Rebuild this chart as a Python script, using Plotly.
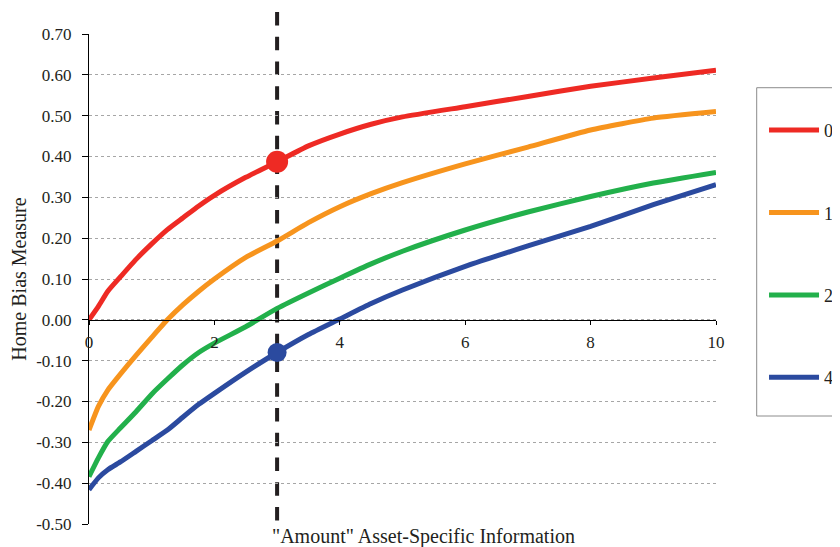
import plotly.graph_objects as go

# ---- data ----
x_vals = [0, 0.15, 0.3, 0.5, 0.75, 1, 1.25, 1.5, 1.75, 2, 2.5, 3, 3.5, 4, 4.5, 5, 6, 7, 8, 9, 10]
series_names = ["0", "1", "2", "4"]
y_s0 = [0.000, 0.033, 0.070, 0.105, 0.148, 0.186, 0.221, 0.250, 0.279, 0.305, 0.349, 0.387,
        0.426, 0.455, 0.479, 0.497, 0.522, 0.547, 0.572, 0.592, 0.611]
y_s1 = [-0.270, -0.212, -0.172, -0.133, -0.087, -0.043, 0.000, 0.037, 0.070, 0.100, 0.153, 0.193,
        0.238, 0.277, 0.309, 0.336, 0.382, 0.423, 0.465, 0.494, 0.510]
y_s2 = [-0.384, -0.338, -0.298, -0.265, -0.225, -0.182, -0.145, -0.110, -0.080, -0.057, -0.017, 0.028,
        0.066, 0.102, 0.137, 0.168, 0.220, 0.264, 0.302, 0.335, 0.361]
y_s4 = [-0.416, -0.387, -0.367, -0.348, -0.322, -0.296, -0.270, -0.238, -0.207, -0.180, -0.128, -0.080,
        -0.036, 0.002, 0.040, 0.073, 0.131, 0.181, 0.229, 0.282, 0.331]
highlight_x = 3
highlight_y_s0 = 0.387
highlight_y_s4 = -0.080

y_tickvals = [-0.5, -0.4, -0.3, -0.2, -0.1, 0.0, 0.1, 0.2, 0.3, 0.4, 0.5, 0.6, 0.7]
y_ticktext = ["-0.50", "-0.40", "-0.30", "-0.20", "-0.10", "0.00", "0.10", "0.20", "0.30",
              "0.40", "0.50", "0.60", "0.70"]
x_tickvals = [0, 2, 4, 6, 8, 10]

x_title = '"Amount" Asset-Specific Information'
y_title = "Home Bias Measure"

# ---- styling ----
colors = ["#EE2A24", "#F7941D", "#22B04B", "#2B4A9F"]
FONT = '"Liberation Serif", "Times New Roman", Times, serif'
TXT = "#231F20"

fig = go.Figure()
for name, ys, col in zip(series_names, [y_s0, y_s1, y_s2, y_s4], colors):
    fig.add_trace(go.Scatter(
        x=x_vals, y=ys, mode="lines", name=name, legendgroup="g" + name,
        line=dict(color=col, width=5, shape="spline", smoothing=0.5),
    ))

fig.add_trace(go.Scatter(x=[highlight_x], y=[highlight_y_s0], mode="markers", showlegend=False,
                         marker=dict(color=colors[0], size=22)))
fig.add_trace(go.Scatter(x=[highlight_x], y=[highlight_y_s4], mode="markers", showlegend=False,
                         marker=dict(color=colors[3], size=19)))

# vertical dashed line (drawn from the top down so the dash pattern starts at the top)
fig.add_shape(type="line", xref="x", yref="paper", x0=highlight_x, x1=highlight_x,
              y0=1.045, y1=0.0, line=dict(color=TXT, width=4, dash="13.5px,11.25px"), layer="below")

# legend frame
fig.add_shape(type="rect", xref="paper", yref="paper", x0=1.0649, x1=1.25, y0=0.2204, y1=0.8904,
              line=dict(color="#8c8c8c", width=1), fillcolor="rgba(0,0,0,0)")

fig.add_annotation(text=x_title, xref="paper", yref="paper", x=0.5327, y=-0.0245,
                   xanchor="center", yanchor="middle", showarrow=False,
                   font=dict(family=FONT, size=20, color=TXT))

fig.update_layout(
    width=832, height=539,
    margin=dict(l=81, r=124, t=26, b=23, autoexpand=False),
    paper_bgcolor="white", plot_bgcolor="white",
    font=dict(family=FONT, size=17, color=TXT),
    showlegend=True,
    legend=dict(x=1.0766, y=0.841, xanchor="left", yanchor="top",
                traceorder="grouped", tracegroupgap=56, itemwidth=50,
                bgcolor="rgba(0,0,0,0)", borderwidth=0,
                font=dict(family=FONT, size=18, color=TXT)),
    xaxis=dict(range=[0, 10], tickvals=x_tickvals, anchor="free", position=0.41667,
               showline=True, linecolor="black", linewidth=1,
               ticks="outside", ticklen=4, tickcolor="black", ticklabelstandoff=3,
               showgrid=False, zeroline=False,
               tickfont=dict(family=FONT, size=17, color=TXT)),
    yaxis=dict(range=[-0.5, 0.7], tickvals=y_tickvals, ticktext=y_ticktext,
               showline=True, linecolor="black", linewidth=1,
               ticks="outside", ticklen=6, tickcolor="black", ticklabelstandoff=7,
               showgrid=True, gridcolor="#a6a6a6", gridwidth=1, griddash="dot",
               zeroline=False,
               title=dict(text=y_title, font=dict(family=FONT, size=20, color=TXT), standoff=5),
               tickfont=dict(family=FONT, size=17, color=TXT)),
)

fig.write_html("out.html")
